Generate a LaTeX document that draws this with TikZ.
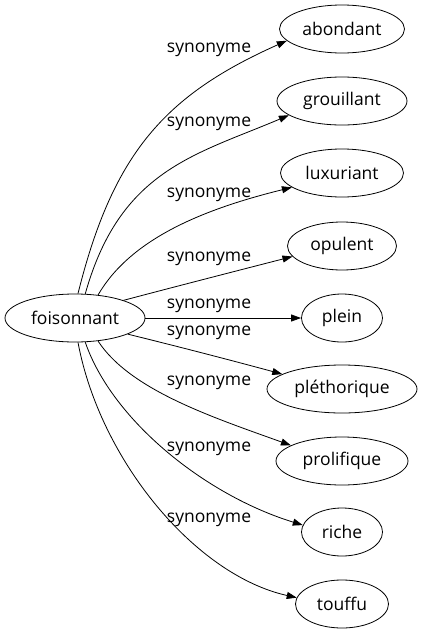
\documentclass[tikz,border=0pt]{standalone}
\usepackage{fontspec}
\setmainfont{Open Sans}
\usetikzlibrary{shapes.geometric}
\usetikzlibrary{arrows.meta}

\begin{document}
\begin{tikzpicture}[x=1pt,y=-1pt,
    word/.style={draw, ellipse, line width=0.8pt, inner sep=0pt, minimum height=48pt, font=\fontsize{17.5}{20}\selectfont},
    lbl/.style={inner sep=0pt, font=\fontsize{17.5}{20}\selectfont},
    syn/.style={-{Triangle[length=10pt,width=7pt]}, line width=0.8pt}]
            \useasboundingbox (0,0) rectangle (422,635);
            % Synonym graph
            \node[word, minimum width=140pt] (foi) at (75,318) {foisonnant};

            \node[word, minimum width=125pt] (abondant) at (342,29) {abondant};
            \node[word, minimum width=130pt] (grouillant) at (342,101) {grouillant};
            \node[word, minimum width=123pt] (luxuriant) at (342,173) {luxuriant};
            \node[word, minimum width=109pt] (opulent) at (342,246) {opulent};
            \node[word, minimum width=81pt] (plein) at (342,318) {plein};
            \node[word, minimum width=150pt] (plethorique) at (342,389) {pléthorique};
            \node[word, minimum width=132pt] (prolifique) at (342,461) {prolifique};
            \node[word, minimum width=81pt] (riche) at (342,532) {riche};
            \node[word, minimum width=93pt] (touffu) at (342,604) {touffu};

            \node[lbl] (syn1) at (209,50) {synonyme};
            \node[lbl] (syn2) at (209,124) {synonyme};
            \node[lbl] (syn3) at (209,195) {synonyme};
            \node[lbl] (syn4) at (209,259) {synonyme};
            \node[lbl] (syn5) at (209,306) {synonyme};
            \node[lbl] (syn6) at (209,333) {synonyme};
            \node[lbl] (syn7) at (209,383) {synonyme};
            \node[lbl] (syn8) at (209,449) {synonyme};
            \node[lbl] (syn9) at (209,520) {synonyme};

            \draw[syn] (foi.83) .. controls (113,153) and (165,95) .. (abondant.192);
            \draw[syn] (foi.67) .. controls (120,170) and (195,155) .. (grouillant.195);
            \draw[syn] (foi.45) .. controls (130,240) and (200,210) .. (luxuriant.196);
            \draw[syn] (foi.20) .. controls (170,288) and (240,270) .. (opulent.192);
            \draw[syn] (foi.east) -- (plein.west);
            \draw[syn] (foi.343) .. controls (180,347) and (230,360) .. (plethorique.166);
            \draw[syn] (foi.315) .. controls (130,390) and (212,417) .. (prolifique.163);
            \draw[syn] (foi.293) .. controls (112,420) and (205,495) .. (riche.170);
            \draw[syn] (foi.277) .. controls (100,460) and (195,575) .. (touffu.172);
        \end{tikzpicture}
\end{document}
